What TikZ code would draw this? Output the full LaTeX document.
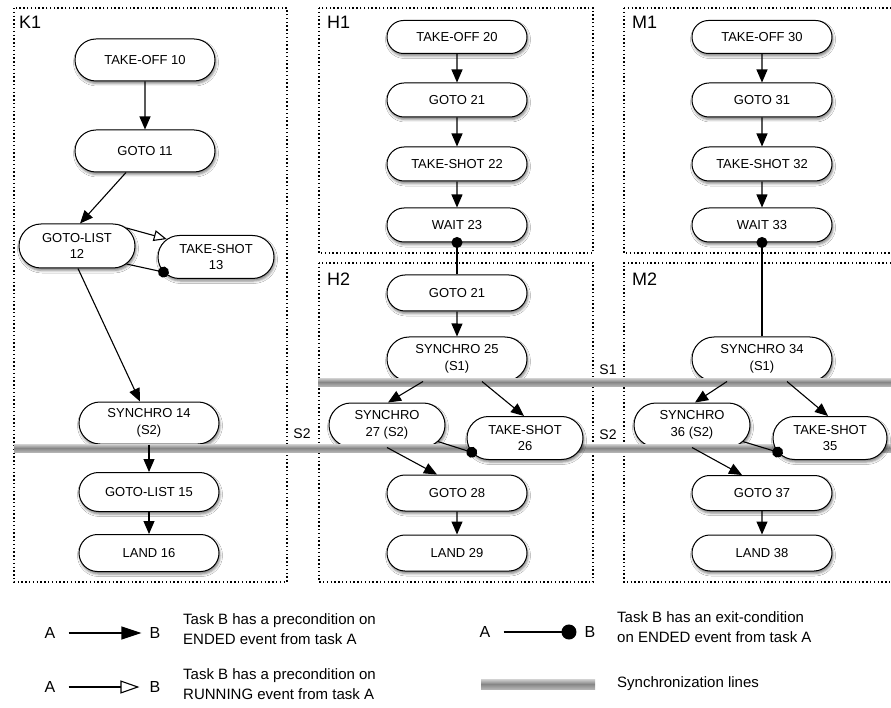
\documentclass[tikz,border=0pt]{standalone}
\usepackage{fontspec}
\setmainfont{Liberation Sans}
\usetikzlibrary{arrows.meta,shapes.misc,shadows.blur}
\begin{document}
\begin{tikzpicture}[x=1pt,y=-1pt,
  task/.style={rounded rectangle, draw=black, line width=1pt, fill=white,
    minimum width=142pt, minimum height=40pt, inner sep=1pt, align=center,
    font=\fontsize{13}{16.5}\selectfont,
    blur shadow={shadow xshift=1pt, shadow yshift=-2.5pt, shadow blur radius=2.5pt, shadow opacity=50}},
  frame/.style={draw=black, line width=1.3pt, dash pattern=on 1.4pt off 2.4pt},
  boxlabel/.style={anchor=west, inner sep=0pt, font=\fontsize{18}{18}\selectfont},
  slabel/.style={inner sep=0pt, font=\fontsize{14}{14}\selectfont},
  syncbar/.style={top color=gray!35, bottom color=gray!60, middle color=gray!95},
  fa/.style={line width=1.1pt, -{Triangle[length=13pt,width=11pt]}},
  oa/.style={line width=1.1pt, -{Triangle[open,length=13pt,width=11pt]}},
  da/.style={line width=1.1pt, -{Circle[length=11pt]}, shorten >=-5.5pt},
  legab/.style={inner sep=0pt, font=\fontsize{16}{16}\selectfont},
  legtext/.style={anchor=west, align=left, inner sep=0pt, font=\fontsize{15}{20}\selectfont}
]
\useasboundingbox (0,0) rectangle (891,708);
\fill[white] (0,0) rectangle (891,708);

% frames
\draw[frame] (14,8) rectangle (287,582);
\draw[frame] (319,8) rectangle (593,253);
\draw[frame] (319,263) rectangle (593,582);
\draw[frame] (624,8) -- (895,8);
\draw[frame] (624,8) -- (624,253) -- (895,253);
\draw[frame] (895,263) -- (624,263) -- (624,582) -- (895,582);

\node[boxlabel] (K1) at (19,22) {K1};
\node[boxlabel] (H1) at (327,22) {H1};
\node[boxlabel] (M1) at (632,22) {M1};
\node[boxlabel] (H2) at (327,279) {H2};
\node[boxlabel] (M2) at (632,279) {M2};

% synchro nodes (below the synchronization bars)
\node[task, minimum height=42pt] (s14) at (149,423) {SYNCHRO 14\\(S2)};
\node[task, minimum height=44pt] (s25) at (457,359) {SYNCHRO 25\\(S1)};
\node[task, minimum width=118pt, minimum height=44pt] (s27) at (387,425) {SYNCHRO\\27 (S2)};
\node[task, minimum height=44pt] (s34) at (762,359) {SYNCHRO 34\\(S1)};
\node[task, minimum width=118pt, minimum height=44pt] (s36) at (692,425) {SYNCHRO\\36 (S2)};

% synchronization bars
\shade[syncbar] (318,378) rectangle (891,386);
\shade[syncbar] (14,444) rectangle (891,452);
\node[slabel] (S2a) at (302,434) {S2};
\node[slabel] (S1b) at (608,370) {S1};
\node[slabel] (S2b) at (608,435) {S2};

% K1
\node[task, minimum height=42pt] (to10) at (145,60) {TAKE-OFF 10};
\node[task, minimum height=42pt] (g11) at (145,151) {GOTO 11};
\node[task, minimum width=118pt, minimum height=44pt] (gl12) at (77,246) {GOTO-LIST\\12};
\node[task, minimum width=118pt, minimum height=43pt] (ts13) at (216,257) {TAKE-SHOT\\13};
\node[task, minimum height=39pt] (gl15) at (149,492) {GOTO-LIST 15};
\node[task, minimum height=37pt] (l16) at (149,553) {LAND 16};

% H1
\node[task, minimum height=33pt] (to20) at (457,37) {TAKE-OFF 20};
\node[task, minimum height=34pt] (g21) at (457,100) {GOTO 21};
\node[task, minimum height=34pt] (ts22) at (457,164) {TAKE-SHOT 22};
\node[task, minimum height=34pt] (w23) at (457,225) {WAIT 23};

% H2
\node[task, minimum height=36pt] (g21b) at (457,293) {GOTO 21};
\node[task, minimum width=118pt, minimum height=43pt] (ts26) at (525,438) {TAKE-SHOT\\26};
\node[task, minimum height=36pt] (g28) at (457,493) {GOTO 28};
\node[task, minimum height=36pt] (l29) at (457,553) {LAND 29};

% M1
\node[task, minimum height=33pt] (to30) at (762,37) {TAKE-OFF 30};
\node[task, minimum height=34pt] (g31) at (762,100) {GOTO 31};
\node[task, minimum height=34pt] (ts32) at (762,164) {TAKE-SHOT 32};
\node[task, minimum height=34pt] (w33) at (762,225) {WAIT 33};

% M2
\node[task, minimum width=116pt, minimum height=43pt] (ts35) at (830,438) {TAKE-SHOT\\35};
\node[task, minimum height=35pt] (g37) at (762,493) {GOTO 37};
\node[task, minimum height=36pt] (l38) at (762,553) {LAND 38};

% connectors K1
\draw[fa] (to10) -- (g11);
\draw[fa] ([xshift=-19pt]g11.south) -- ([xshift=3pt]gl12.north);
\draw[oa] (gl12.20) -- (ts13.160);
\draw[da] (gl12.-20) -- (ts13.-164);
\draw[fa] ([xshift=1pt]gl12.south) -- ([xshift=-9pt]s14.north);
\draw[fa] (s14.south) -- (gl15.north);
\draw[fa] (gl15) -- (l16);

% connectors H
\draw[fa] (to20) -- (g21);
\draw[fa] (g21) -- (ts22);
\draw[fa] (ts22) -- (w23);
\draw[da] (g21b.north) -- (w23.south);
\draw[fa] (g21b) -- (s25);
\draw[fa] ([xshift=-34pt]s25.south) -- ([xshift=1pt]s27.north);
\draw[fa] ([xshift=25pt]s25.south) -- ([xshift=-1pt]ts26.north);
\draw[da] (s27.-18) -- (ts26.-165);
\draw[fa] (s27.south) -- ([xshift=-20pt]g28.north);
\draw[fa] (g28) -- (l29);

% connectors M
\draw[fa] (to30) -- (g31);
\draw[fa] (g31) -- (ts32);
\draw[fa] (ts32) -- (w33);
\draw[da] (s34.north) -- (w33.south);
\draw[fa] ([xshift=-35pt]s34.south) -- ([xshift=3pt]s36.north);
\draw[fa] ([xshift=25pt]s34.south) -- ([xshift=-2pt]ts35.north);
\draw[da] (s36.-18) -- (ts35.-165);
\draw[fa] (s36.south) -- ([xshift=-20pt]g37.north);
\draw[fa] (g37) -- (l38);

% legend
\node[legab] (la1) at (50,633) {A};
\node[legab] (lb1) at (155,633) {B};
\draw[line width=1.1pt, -{Triangle[length=20pt,width=13pt]}, shorten <=13pt, shorten >=8pt] (la1) -- (lb1);
\node[legtext] (t1) at (183,629) {Task B has a precondition on\\ENDED event from task A};

\node[legab] (la2) at (50,687) {A};
\node[legab] (lb2) at (155,687) {B};
\draw[line width=1.1pt, -{Triangle[open,length=19pt,width=13pt]}, shorten <=13pt, shorten >=10pt] (la2) -- (lb2);
\node[legtext] (t2) at (183,684) {Task B has a precondition on\\RUNNING event from task A};

\node[legab] (la3) at (485,632) {A};
\node[legab] (lb3) at (590,632) {B};
\draw[line width=1.1pt, -{Circle[length=15pt]}, shorten <=13pt, shorten >=8pt] (la3) -- (lb3);
\node[legtext] (t3) at (617,627) {Task B has an exit-condition\\on ENDED event from task A};

\shade[syncbar] (481,679) rectangle (595,689);
\node[legtext] (t4) at (617,684) {Synchronization lines};
\end{tikzpicture}
\end{document}
